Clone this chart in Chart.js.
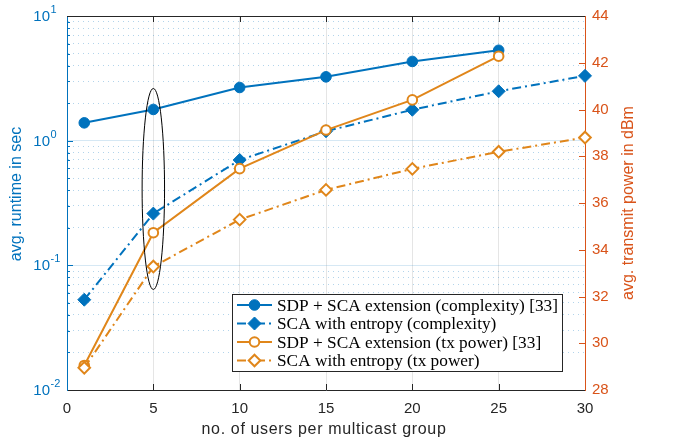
<!DOCTYPE html>
<html>
<head>
<meta charset="utf-8">
<title>Runtime and transmit power vs. group size</title>
<script src="https://cdn.jsdelivr.net/npm/chart.js@4.4.1/dist/chart.umd.min.js"></script>
<style>
  html, body { margin: 0; padding: 0; background: #fff; }
  canvas { display: block; }
</style>
</head>
<body>
<canvas id="runtimeChart" width="673" height="443"></canvas>
<script>
// ==================== DATA ====================
const usersPerGroup = [1, 5, 10, 15, 20, 25, 30];

// avg. runtime in sec (left axis, log scale)
const runtimeSdp = [1.39, 1.78, 2.67, 3.25, 4.32, 5.31];
const runtimeSca = [0.053, 0.26, 0.70, 1.19, 1.77, 2.49, 3.31];

// avg. transmit power in dBm (right axis)
const powerSdp = [29.05, 34.73, 37.47, 39.12, 40.41, 42.28];
const powerSca = [28.95, 33.28, 35.29, 36.56, 37.46, 38.19, 38.80];

const seriesLabels = [
    'SDP + SCA extension (complexity) [33]',
    'SCA with entropy (complexity)',
    'SDP + SCA extension (tx power) [33]',
    'SCA with entropy (tx power)'
];

const runtimeDecades = [-2, -1, 0, 1];
const runtimeMinor = [1, 2, 3, 4, 5, 6, 7, 8, 9];
const powerTicks = [28, 30, 32, 34, 36, 38, 40, 42, 44];

// highlighted group size (ellipse around the 5-user results)
const highlight = { users: 5, dBm: 36.6, halfUsers: 0.65, halfDBm: 4.3 };

// ==================== STYLE ====================
const BLUE = '#0072BD';
const ORANGE = '#E0861A';
const AXIS_ORANGE = '#D95319';
const DARK = '#262626';
const SANS = '"Liberation Sans", Arial, sans-serif';
const SERIF = '"Liberation Serif", "Times New Roman", serif';
const DASH_DOT = [9, 4, 2, 4];

const toPoints = ys => ys.map((y, i) => ({ x: usersPerGroup[i], y }));
const isDecade = v => Math.abs(Math.log10(v) - Math.round(Math.log10(v))) < 1e-9;

const seriesStyle = [
    { color: BLUE, dash: [], marker: 'circle', fill: BLUE, radius: 5.3, border: 1 },
    { color: BLUE, dash: DASH_DOT, marker: 'rectRot', fill: BLUE, radius: 6.5, border: 1 },
    { color: ORANGE, dash: [], marker: 'circle', fill: '#fff', radius: 4.8, border: 2 },
    { color: ORANGE, dash: DASH_DOT, marker: 'rectRot', fill: '#fff', radius: 5.8, border: 2 }
];

function makeDataset(i, values, axis) {
    const s = seriesStyle[i];
    return {
        label: seriesLabels[i],
        data: toPoints(values),
        yAxisID: axis,
        borderColor: s.color,
        borderWidth: 2,
        borderDash: s.dash,
        pointStyle: s.marker,
        pointRadius: s.radius,
        pointBackgroundColor: s.fill,
        pointBorderColor: s.color,
        pointBorderWidth: s.border,
        tension: 0,
        clip: false,
        order: 4 - i
    };
}

// ==================== DECORATION ====================
function strokeLine(ctx, x1, y1, x2, y2) {
    ctx.beginPath();
    ctx.moveTo(x1, y1);
    ctx.lineTo(x2, y2);
    ctx.stroke();
}

function drawMarker(ctx, s, x, y) {
    ctx.save();
    ctx.setLineDash([]);
    ctx.fillStyle = s.fill;
    ctx.strokeStyle = s.color;
    ctx.lineWidth = s.border;
    ctx.beginPath();
    if (s.marker === 'circle') {
        ctx.arc(x, y, s.radius, 0, Math.PI * 2);
    } else {
        ctx.moveTo(x, y - s.radius);
        ctx.lineTo(x + s.radius, y);
        ctx.lineTo(x, y + s.radius);
        ctx.lineTo(x - s.radius, y);
        ctx.closePath();
    }
    ctx.fill();
    ctx.stroke();
    ctx.restore();
}

const axesDecor = {
    id: 'axesDecor',
    beforeDatasetsDraw(chart) {
        const { ctx, chartArea: a, scales: { x, yL, yR } } = chart;
        ctx.save();
        ctx.lineWidth = 1;

        // top frame + inward x ticks
        ctx.strokeStyle = DARK;
        strokeLine(ctx, a.left, a.top + 0.5, a.right, a.top + 0.5);
        x.ticks.forEach(t => {
            if (t.value <= x.min || t.value >= x.max) return;
            const px = Math.round(x.getPixelForValue(t.value)) + 0.5;
            strokeLine(ctx, px, a.bottom, px, a.bottom - 6);
            strokeLine(ctx, px, a.top, px, a.top + 6);
        });

        // left log ticks
        ctx.strokeStyle = BLUE;
        yL.ticks.forEach(t => {
            if (t.value <= yL.min || t.value >= yL.max) return;
            const py = Math.round(yL.getPixelForValue(t.value)) + 0.5;
            strokeLine(ctx, a.left, py, a.left + (isDecade(t.value) ? 6 : 3), py);
        });

        // right power ticks
        ctx.strokeStyle = AXIS_ORANGE;
        yR.ticks.forEach(t => {
            if (t.value <= yR.min || t.value >= yR.max) return;
            const py = Math.round(yR.getPixelForValue(t.value)) + 0.5;
            strokeLine(ctx, a.right, py, a.right - 6, py);
        });
        ctx.restore();
    },
    afterDatasetsDraw(chart) {
        const { ctx, scales: { x, yR } } = chart;
        const cx = x.getPixelForValue(highlight.users);
        const cy = yR.getPixelForValue(highlight.dBm);
        const rx = x.getPixelForValue(highlight.users + highlight.halfUsers) - cx;
        const ry = cy - yR.getPixelForValue(highlight.dBm + highlight.halfDBm);
        ctx.save();
        ctx.strokeStyle = '#000';
        ctx.lineWidth = 1;
        ctx.beginPath();
        ctx.ellipse(cx, cy, rx, ry, 0, 0, Math.PI * 2);
        ctx.stroke();
        ctx.restore();
    },
    afterDraw(chart) {
        const { ctx, chartArea: a, scales: { yL } } = chart;
        ctx.save();

        // left decade labels 10^n
        runtimeDecades.forEach(d => {
            const py = yL.getPixelForValue(Math.pow(10, d));
            ctx.fillStyle = BLUE;
            ctx.font = '15px ' + SANS;
            ctx.textAlign = 'right';
            ctx.textBaseline = 'middle';
            ctx.fillText('10', 50, py + 1);
            ctx.font = '11px ' + SANS;
            ctx.textAlign = 'left';
            ctx.fillText(String(d), 50.5, py - 6);
        });

        // axis titles
        ctx.font = '16px ' + SANS;
        ctx.textAlign = 'center';
        ctx.textBaseline = 'middle';
        ctx.fillStyle = BLUE;
        ctx.save();
        ctx.translate(17, 194);
        ctx.rotate(-Math.PI / 2);
        ctx.fillText('avg. runtime in sec', 0, 0);
        ctx.restore();

        ctx.fillStyle = AXIS_ORANGE;
        ctx.save();
        ctx.translate(629, 203);
        ctx.rotate(-Math.PI / 2);
        ctx.fillText('avg. transmit power in dBm', 0, 0);
        ctx.restore();

        ctx.fillStyle = DARK;
        ctx.save();
        ctx.letterSpacing = '0.65px';
        ctx.fillText('no. of users per multicast group', (a.left + a.right) / 2 - 2, 430);
        ctx.restore();

        // legend box
        const box = { x: 232.5, y: 294.5, w: 330, h: 77 };
        ctx.fillStyle = '#fff';
        ctx.fillRect(box.x, box.y, box.w, box.h);
        ctx.strokeStyle = DARK;
        ctx.lineWidth = 1;
        ctx.strokeRect(box.x, box.y, box.w, box.h);

        ctx.font = '17.3px ' + SERIF;
        ctx.textAlign = 'left';
        ctx.textBaseline = 'middle';
        seriesLabels.forEach((label, i) => {
            const s = seriesStyle[i];
            const ry = 305 + i * 18.5;
            ctx.save();
            ctx.strokeStyle = s.color;
            ctx.lineWidth = 2;
            ctx.setLineDash(s.dash);
            strokeLine(ctx, 237, ry, 272, ry);
            ctx.restore();
            drawMarker(ctx, s, 254.5, ry);
            ctx.fillStyle = '#000';
            ctx.fillText(label, 277, ry + 1);
        });
        ctx.restore();
    }
};

// ==================== CHART ====================
new Chart(document.getElementById('runtimeChart'), {
    type: 'line',
    data: {
        datasets: [
            makeDataset(0, runtimeSdp, 'yL'),
            makeDataset(1, runtimeSca, 'yL'),
            makeDataset(2, powerSdp, 'yR'),
            makeDataset(3, powerSca, 'yR')
        ]
    },
    options: {
        responsive: false,
        animation: false,
        layout: { padding: { top: 11, left: 0, right: 0, bottom: 0 } },
        plugins: {
            legend: { display: false },
            tooltip: { enabled: false }
        },
        scales: {
            x: {
                type: 'linear',
                position: 'bottom',
                min: 0,
                max: 30,
                afterFit: s => { s.height = 53; },
                grid: { color: 'rgba(0,0,0,0.1)', drawTicks: false },
                border: { color: DARK, width: 1 },
                ticks: { stepSize: 5, padding: 10, color: DARK, font: { family: SANS, size: 15 } }
            },
            yL: {
                type: 'logarithmic',
                position: 'left',
                min: 0.01,
                max: 10,
                afterFit: s => { s.width = 67; },
                afterBuildTicks: s => {
                    const ticks = [];
                    runtimeDecades.forEach(d => {
                        runtimeMinor.forEach(m => {
                            const v = m * Math.pow(10, d);
                            if (v <= 10 + 1e-9) ticks.push({ value: v, major: m === 1 });
                        });
                    });
                    s.ticks = ticks;
                },
                grid: {
                    drawTicks: false,
                    color: c => (c.tick && isDecade(c.tick.value)) ? 'rgba(0,114,189,0.16)' : 'rgba(0,114,189,0.3)'
                },
                border: {
                    color: BLUE,
                    width: 1,
                    dash: c => (c.tick && !isDecade(c.tick.value)) ? [1, 4] : []
                },
                ticks: { display: false, autoSkip: false }
            },
            yR: {
                type: 'linear',
                position: 'right',
                min: 28,
                max: 44,
                afterFit: s => { s.width = 88; },
                afterBuildTicks: s => { s.ticks = powerTicks.map(v => ({ value: v })); },
                grid: { drawOnChartArea: false, drawTicks: false },
                border: { color: AXIS_ORANGE, width: 1 },
                ticks: { padding: 7, color: AXIS_ORANGE, font: { family: SANS, size: 15 } }
            }
        }
    },
    plugins: [axesDecor]
});
</script>
</body>
</html>
